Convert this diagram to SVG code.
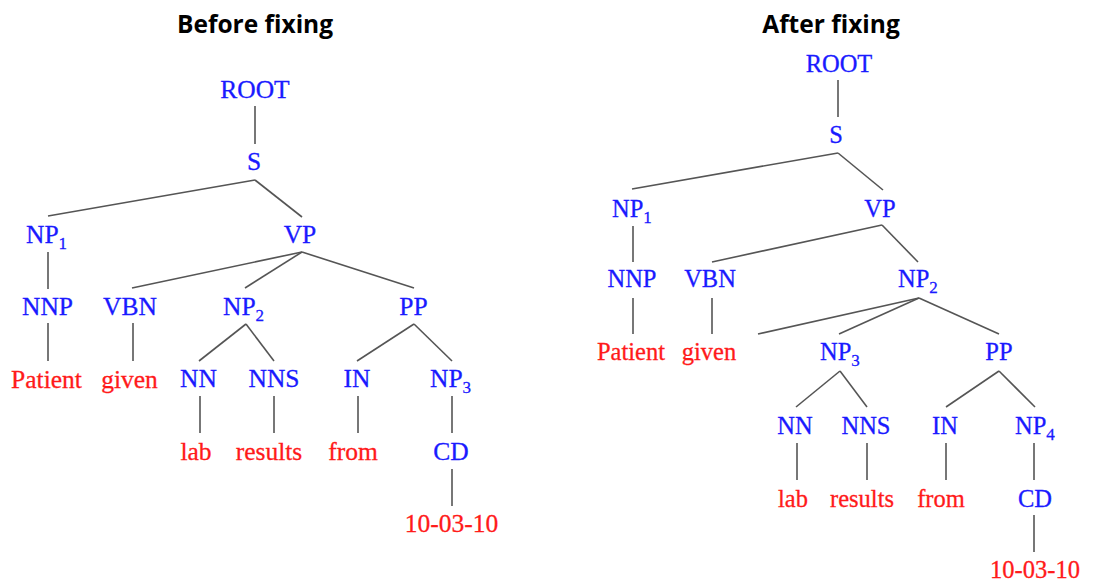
<svg xmlns="http://www.w3.org/2000/svg" width="1112" height="582" viewBox="0 0 1112 582">
<style>
.title{font-family:"Open Sans","Liberation Sans",sans-serif;font-weight:bold;font-size:24.5px;fill:#000;text-anchor:middle}
.n{font-family:"Liberation Serif",serif;fill:#1a1aff;stroke:#1a1aff;stroke-width:0.3}
.w{font-family:"Liberation Serif",serif;fill:#ff1a1a;stroke:#ff1a1a;stroke-width:0.3}
.L{font-size:25.5px}
.R{font-size:24.5px}
.c{text-anchor:middle}
.sub{font-size:17px}
.edges line{stroke:#555;stroke-width:1.6;fill:none}
</style>
<rect width="1112" height="582" fill="#fff"/>
<text class="title" x="255" y="33">Before fixing</text>
<text class="title" x="831" y="33">After fixing</text>

<g id="left-connectors" class="edges">
<line x1="255" y1="106" x2="255" y2="144"/>
<line x1="255" y1="180" x2="48" y2="216"/>
<line x1="255" y1="180" x2="302" y2="217"/>
<line x1="48" y1="252" x2="48" y2="289"/>
<line x1="302" y1="252" x2="132" y2="288"/>
<line x1="302" y1="252" x2="245" y2="288"/>
<line x1="302" y1="252" x2="414" y2="288"/>
<line x1="48" y1="323" x2="48" y2="361"/>
<line x1="133" y1="323" x2="133" y2="361"/>
<line x1="246" y1="324" x2="199" y2="361"/>
<line x1="246" y1="324" x2="274" y2="361"/>
<line x1="414" y1="324" x2="357" y2="361"/>
<line x1="414" y1="324" x2="452" y2="361"/>
<line x1="200" y1="396" x2="200" y2="433"/>
<line x1="274" y1="396" x2="274" y2="433"/>
<line x1="358" y1="396" x2="358" y2="433"/>
<line x1="452" y1="396" x2="452" y2="433"/>
<line x1="452" y1="469" x2="452" y2="506"/>
</g>

<g id="L-ROOT"><text class="n L c" x="255" y="98">ROOT</text></g>
<g id="L-S"><text class="n L c" x="254" y="170">S</text></g>
<g id="L-NP1"><text class="n L" x="26" y="243">NP<tspan class="sub" dy="6">1</tspan></text></g>
<g id="L-VP"><text class="n L c" x="300" y="243">VP</text></g>
<g id="L-NNP"><text class="n L c" x="47.5" y="315">NNP</text></g>
<g id="L-VBN"><text class="n L c" x="130" y="315">VBN</text></g>
<g id="L-NP2"><text class="n L" x="223" y="315">NP<tspan class="sub" dy="6">2</tspan></text></g>
<g id="L-PP"><text class="n L c" x="413.5" y="315">PP</text></g>
<g id="L-Patient"><text class="w L c" x="46.5" y="388">Patient</text></g>
<g id="L-given"><text class="w L c" x="129.5" y="388">given</text></g>
<g id="L-NN"><text class="n L c" x="198.5" y="387">NN</text></g>
<g id="L-NNS"><text class="n L c" x="274" y="387">NNS</text></g>
<g id="L-IN"><text class="n L c" x="357" y="387">IN</text></g>
<g id="L-NP3"><text class="n L" x="430" y="387">NP<tspan class="sub" dy="6">3</tspan></text></g>
<g id="L-lab"><text class="w L c" x="196" y="460">lab</text></g>
<g id="L-results"><text class="w L c" x="269" y="460">results</text></g>
<g id="L-from"><text class="w L c" x="353" y="460">from</text></g>
<g id="L-CD"><text class="n L c" x="451" y="460">CD</text></g>
<g id="L-date"><text class="w L c" x="451.5" y="532">10-03-10</text></g>

<g id="right-connectors" class="edges">
<line x1="838" y1="80" x2="838" y2="117"/>
<line x1="838" y1="153" x2="632" y2="189"/>
<line x1="838" y1="153" x2="883" y2="190"/>
<line x1="633" y1="226" x2="633" y2="262"/>
<line x1="882" y1="225" x2="712" y2="262"/>
<line x1="882" y1="225" x2="918" y2="262"/>
<line x1="633" y1="298" x2="633" y2="334"/>
<line x1="712" y1="298" x2="712" y2="334"/>
<line x1="919" y1="298" x2="758" y2="334"/>
<line x1="919" y1="298" x2="839" y2="334"/>
<line x1="919" y1="298" x2="999" y2="334"/>
<line x1="840" y1="371" x2="796" y2="407"/>
<line x1="840" y1="371" x2="867" y2="407"/>
<line x1="999" y1="371" x2="946" y2="407"/>
<line x1="999" y1="371" x2="1035" y2="407"/>
<line x1="797" y1="443" x2="797" y2="480"/>
<line x1="867" y1="443" x2="867" y2="480"/>
<line x1="946" y1="443" x2="946" y2="480"/>
<line x1="1034" y1="443" x2="1034" y2="480"/>
<line x1="1034" y1="515" x2="1034" y2="552"/>
</g>

<g id="R-ROOT"><text class="n R c" x="839" y="72">ROOT</text></g>
<g id="R-S"><text class="n R c" x="836" y="143">S</text></g>
<g id="R-NP1"><text class="n R" x="612" y="217">NP<tspan class="sub" dy="6">1</tspan></text></g>
<g id="R-VP"><text class="n R c" x="880" y="217">VP</text></g>
<g id="R-NNP"><text class="n R c" x="632" y="287">NNP</text></g>
<g id="R-VBN"><text class="n R c" x="710" y="287">VBN</text></g>
<g id="R-NP2"><text class="n R" x="898" y="287">NP<tspan class="sub" dy="6">2</tspan></text></g>
<g id="R-Patient"><text class="w R c" x="631" y="360">Patient</text></g>
<g id="R-given"><text class="w R c" x="709" y="360">given</text></g>
<g id="R-NP3"><text class="n R" x="820" y="360">NP<tspan class="sub" dy="6">3</tspan></text></g>
<g id="R-PP"><text class="n R c" x="999" y="360">PP</text></g>
<g id="R-NN"><text class="n R c" x="795" y="434">NN</text></g>
<g id="R-NNS"><text class="n R c" x="866" y="434">NNS</text></g>
<g id="R-IN"><text class="n R c" x="945" y="434">IN</text></g>
<g id="R-NP4"><text class="n R" x="1015" y="434">NP<tspan class="sub" dy="6">4</tspan></text></g>
<g id="R-lab"><text class="w R c" x="793" y="507">lab</text></g>
<g id="R-results"><text class="w R c" x="862" y="507">results</text></g>
<g id="R-from"><text class="w R c" x="941" y="507">from</text></g>
<g id="R-CD"><text class="n R c" x="1035" y="507">CD</text></g>
<g id="R-date"><text class="w R c" x="1035" y="578">10-03-10</text></g>
</svg>
